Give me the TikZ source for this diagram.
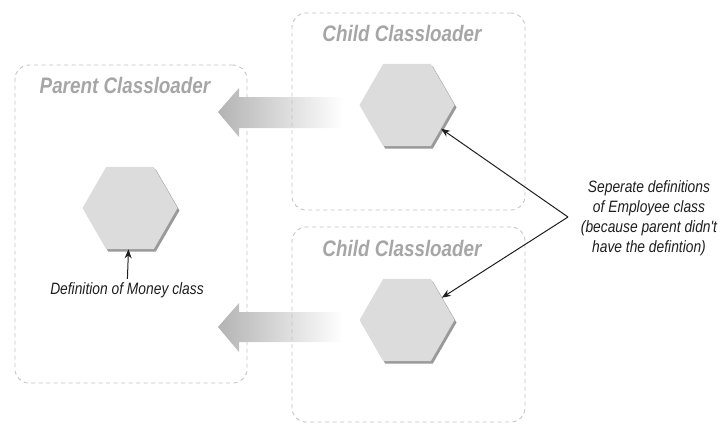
\documentclass[tikz,border=0pt]{standalone}
\usepackage{fontspec}
\setmainfont{Liberation Sans}
\newfontfamily\narrowsans[FakeStretch=0.84]{Liberation Sans}
\usepackage{tikz}
\usetikzlibrary{shapes.geometric, arrows.meta, positioning, shadows}
\definecolor{boxgray}{HTML}{C4C4C4}
\definecolor{titlegray}{HTML}{A6A6A6}
\definecolor{hexfill}{HTML}{DCDCDC}
\definecolor{hexshade}{HTML}{9A9A9A}
\definecolor{inkgray}{HTML}{1E1E1E}
\tikzset{
  loaderbox/.style={rectangle, draw=boxgray, dashed, dash pattern=on 4bp off 3.5bp,
                    rounded corners=14bp, line width=0.9bp},
  loadertitle/.style={text=titlegray, font=\narrowsans\bfseries\itshape\fontsize{22.5}{26}\selectfont},
  classhex/.style={regular polygon, regular polygon sides=6, minimum size=95bp,
                   fill=hexfill, inner sep=0pt,
                   drop shadow={shadow xshift=2bp, shadow yshift=-2.5bp, fill=hexshade, opacity=1}},
  notetext/.style={text=inkgray, align=center,
                   font=\narrowsans\itshape\fontsize{16.5}{20}\selectfont},
  ptr/.style={-{Stealth[length=9bp, width=7bp]}, inkgray, line width=1bp},
  delegate/.style={left color=hexshade!75, right color=white},
}
\begin{document}
\begin{tikzpicture}[x=1bp, y=-1bp]
  \useasboundingbox (0,0) rectangle (723,424);

  % Delegation arrows (child -> parent)
  \shade[delegate] (218,112) -- (239,88) -- (239,97) -- (343,97) -- (343,128)
    -- (239,128) -- (239,137) -- cycle;
  \shade[delegate] (218,327) -- (239,303) -- (239,312) -- (343,312) -- (343,342)
    -- (239,342) -- (239,352) -- cycle;

  % Loader boxes
  \node [loaderbox, minimum width=232bp, minimum height=318bp] (parent) at (131,224) {};
  \node [loaderbox, minimum width=233bp, minimum height=197bp] (childA) at (408.5,111.5) {};
  \node [loaderbox, minimum width=233bp, minimum height=195bp] (childB) at (408.5,324.5) {};

  \node [loadertitle] (parenttitle) at (125,85) {Parent Classloader};
  \node [loadertitle] (childAtitle) at (402,33) {Child Classloader};
  \node [loadertitle] (childBtitle) at (402,248) {Child Classloader};

  % Class definitions
  \node [classhex] (money) at (130,208) {};
  \node [classhex] (empA) at (407,105) {};
  \node [classhex] (empB) at (407,320) {};

  % Notes
  \node [notetext] (moneynote) at (127,290) {Definition of Money class};
  \node [notetext] (empnote) at (649,218)
    {Seperate definitions\\of Employee class\\(because parent didn't\\have the defintion)};
  \coordinate (fork) at (568,217);

  % Edges
  \draw [ptr] (moneynote) -- (money);
  \draw [ptr] (fork) -- (empA);
  \draw [ptr] (fork) -- (empB);
\end{tikzpicture}
\end{document}
